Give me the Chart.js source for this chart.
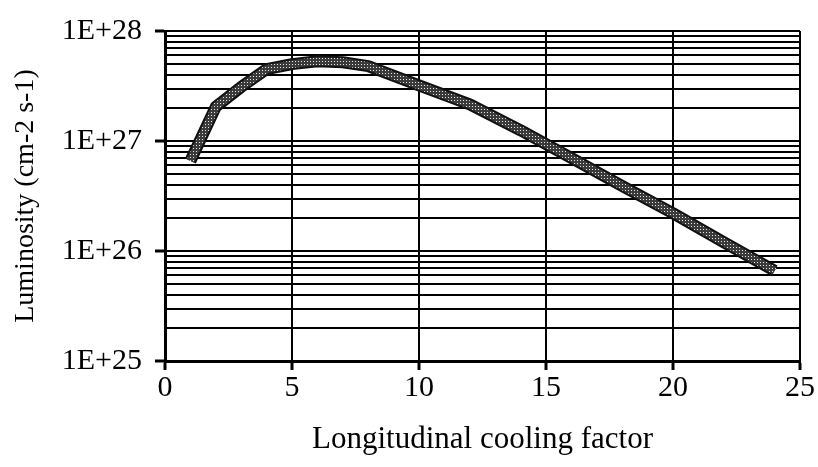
<!DOCTYPE html>
<html>
<head>
<meta charset="utf-8">
<script src="https://cdn.jsdelivr.net/npm/chart.js@4/dist/chart.umd.min.js"></script>
<style>
  html, body { margin: 0; padding: 0; background: #fff; }
  #wrap { width: 818px; height: 467px; }
</style>
</head>
<body>
<div id="wrap"><canvas id="lumChart" width="818" height="467"></canvas></div>
<script>
// values
const coolingFactor = [1, 2, 3, 4, 5, 6, 7, 8, 10, 12, 14, 16, 18, 20, 22, 24];
const luminosity = [6.6e26, 2.05e27, 3.1e27, 4.5e27, 5.0e27, 5.3e27, 5.2e27, 4.8e27,
                    3.2e27, 2.15e27, 1.25e27, 7.0e26, 3.9e26, 2.2e26, 1.2e26, 6.6e25];

const xTicks = [0, 5, 10, 15, 20, 25];
const yDecades = [1e25, 1e26, 1e27, 1e28];
const yDecadeLabels = ['1E+25', '1E+26', '1E+27', '1E+28'];
const yMinorSteps = [2, 3, 4, 5, 6, 7, 8, 9];

// gridline positions: every decade plus the 2..9 steps inside it
const yGridValues = [];
yDecades.forEach((d, i) => {
    yGridValues.push(d);
    if (i < yDecades.length - 1) {
        yMinorSteps.forEach(m => yGridValues.push(m * d));
    }
});

function isDecade(v) {
    return yDecades.some(d => Math.abs(v - d) / d < 1e-6);
}

// speckled fill for the thick curve (dark with light dots)
const patCanvas = document.createElement('canvas');
patCanvas.width = 3;
patCanvas.height = 3;
const pctx = patCanvas.getContext('2d');
pctx.fillStyle = '#3a3a3a';
pctx.fillRect(0, 0, 3, 3);
pctx.fillStyle = '#e8e8e8';
pctx.fillRect(1, 1, 1, 1);

const serif = "'Liberation Serif', 'Times New Roman', serif";

// draws the speckled core on top of the dark curve, using the chart's own points
const curveCore = {
    id: 'curveCore',
    afterDatasetsDraw(chart) {
        const pts = chart.getDatasetMeta(0).data;
        const ctx = chart.ctx;
        ctx.save();
        ctx.beginPath();
        pts.forEach((p, i) => {
            if (i === 0) ctx.moveTo(p.x, p.y);
            else ctx.lineTo(p.x, p.y);
        });
        ctx.lineWidth = 8;
        ctx.lineJoin = 'round';
        ctx.lineCap = 'butt';
        ctx.strokeStyle = ctx.createPattern(patCanvas, 'repeat');
        ctx.stroke();
        ctx.restore();
    }
};

const ctx = document.getElementById('lumChart').getContext('2d');

const lumChart = new Chart(ctx, {
    type: 'line',
    data: {
        labels: coolingFactor,
        datasets: [{
            data: coolingFactor.map((x, i) => ({ x: x, y: luminosity[i] })),
            borderColor: '#111',
            borderWidth: 12,
            borderJoinStyle: 'round',
            pointRadius: 0,
            tension: 0,
            fill: false
        }]
    },
    options: {
        responsive: false,
        animation: false,
        layout: { padding: { top: 29, right: 18, left: 0, bottom: 0 } },
        plugins: {
            legend: { display: false },
            tooltip: { enabled: false }
        },
        scales: {
            x: {
                type: 'linear',
                min: 0,
                max: 25,
                afterBuildTicks: (scale) => {
                    scale.ticks = xTicks.map(v => ({ value: v }));
                },
                afterFit: (scale) => { scale.height = 106; },
                ticks: {
                    color: '#000',
                    padding: 0,
                    font: { family: serif, size: 30 }
                },
                grid: {
                    color: '#000',
                    lineWidth: 2,
                    tickLength: 9,
                    tickWidth: 3,
                    tickColor: '#000'
                },
                border: { color: '#000', width: 3 },
                title: {
                    display: true,
                    text: 'Longitudinal cooling factor',
                    color: '#000',
                    padding: { top: 0, bottom: 9 },
                    font: { family: serif, size: 31 }
                }
            },
            y: {
                type: 'logarithmic',
                min: 1e25,
                max: 1e28,
                afterBuildTicks: (scale) => {
                    scale.ticks = yGridValues.map(v => ({ value: v }));
                },
                afterFit: (scale) => { scale.width = 165; },
                ticks: {
                    color: '#000',
                    padding: 13,
                    autoSkip: false,
                    font: { family: serif, size: 30 },
                    callback: (v) => {
                        const i = yDecades.findIndex(d => Math.abs(v - d) / d < 1e-6);
                        return i >= 0 ? yDecadeLabels[i] : '';
                    }
                },
                grid: {
                    color: '#000',
                    lineWidth: 2,
                    tickLength: 10,
                    tickWidth: 3,
                    tickColor: (c) => (c.tick && isDecade(c.tick.value)) ? '#000' : 'rgba(0,0,0,0)'
                },
                border: { color: '#000', width: 3 },
                title: {
                    display: true,
                    text: 'Luminosity (cm-2 s-1)',
                    color: '#000',
                    padding: { top: 9, bottom: 0 },
                    font: { family: serif, size: 28 }
                }
            }
        }
    },
    plugins: [curveCore]
});
</script>
</body>
</html>
